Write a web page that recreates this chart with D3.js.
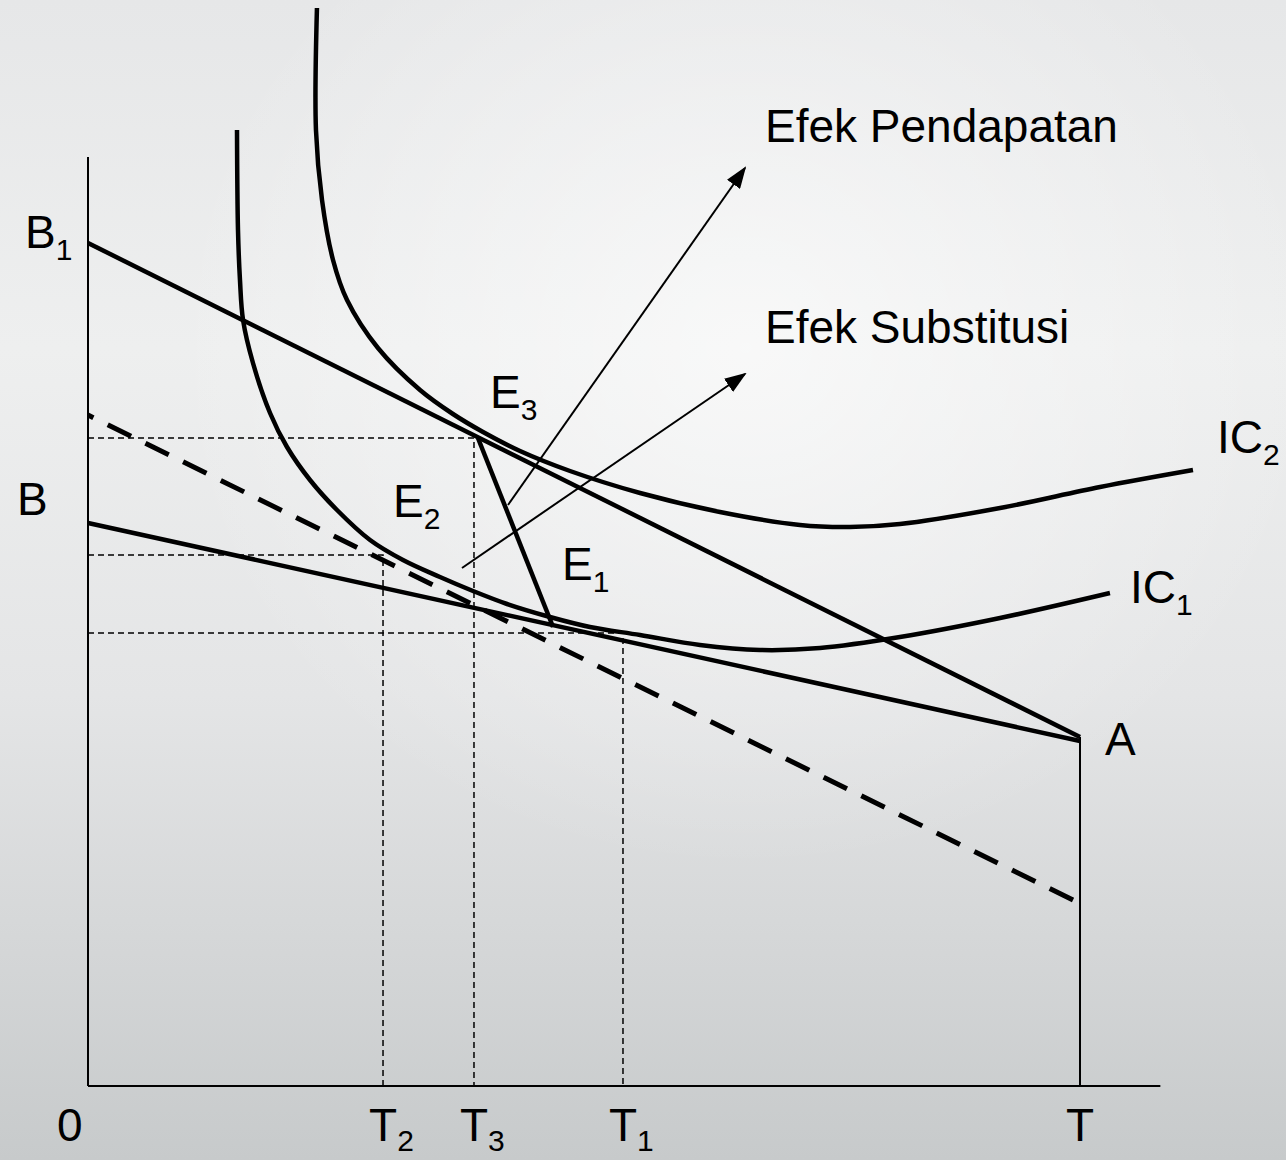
<!DOCTYPE html>
<html>
<head>
<meta charset="utf-8">
<script src="https://cdn.jsdelivr.net/npm/d3@7"></script>
<style>
  body { margin: 0; }
  svg { display: block; }
  text { font-family: "Liberation Sans", Arial, sans-serif; fill: #000; }
</style>
</head>
<body>
<div id="visual"></div>
<script>
// Indifference curves (x = leisure units, y = income units)
const ic2 = [
  [23.08, 107.8], [22.98, 95.6], [23.59, 88.6], [24.70, 82.6], [26.11, 78.6],
  [29.23, 73.8], [33.47, 69.6], [36.79, 67.2], [39.82, 65.4], [43.55, 63.5],
  [48.59, 61.5], [55.65, 59.3], [63.71, 57.4], [71.77, 56.1], [76.81, 55.9],
  [81.85, 56.2], [91.94, 57.8], [102.02, 59.9], [111.39, 61.6]
];
const ic1 = [
  [15.02, 95.6], [15.12, 85.6], [15.32, 80.6], [15.63, 76.6], [16.63, 72.3],
  [18.35, 67.3], [20.06, 63.9], [22.38, 60.6], [25.10, 57.6], [28.43, 54.6],
  [31.75, 52.6], [35.48, 50.9], [38.81, 49.5], [42.24, 48.2], [46.57, 46.9],
  [50.60, 45.9], [55.65, 45.1], [61.69, 44.1], [67.74, 43.6], [73.79, 43.8],
  [81.85, 44.9], [91.94, 46.8], [103.02, 49.3]
];

// Budget lines
const budgetB1 = [[0, 84.3], [100, 34.9]];
const budgetB = [[0, 56.3], [100, 34.5]];
const budgetDashed = [[0, 67.1], [100.3, 18.1]];
const endowment = [[100, 0], [100, 34.9]];

// Equilibrium points and the path E3 -> E1
const points = { E3: [38.91, 64.8], E2: [29.74, 53.1], E1: [53.93, 45.3] };
const e3toE1 = [[39.31, 64.8], [46.88, 45.9]];

// Effect arrows
const arrowIncome = [[42.34, 58.1], [66.23, 91.8]];
const arrowSubst = [[37.70, 51.8], [66.23, 71.2]];

// Tick labels
const xTickLabels = [
  { v: 0, main: "0", sub: "" },
  { v: 29.74, main: "T", sub: "2" },
  { v: 38.91, main: "T", sub: "3" },
  { v: 53.93, main: "T", sub: "1" },
  { v: 100, main: "T", sub: "" }
];
const yTickLabels = [
  { v: 84.3, main: "B", sub: "1" },
  { v: 56.3, main: "B", sub: "" }
];

const W = 1286, H = 1160;
const x = d3.scaleLinear().domain([0, 100]).range([88, 1080]);
const y = d3.scaleLinear().domain([0, 100]).range([1086, 86]);

const svg = d3.select("#visual").append("svg")
  .attr("width", W).attr("height", H);

const defs = svg.append("defs");
const bg = defs.append("linearGradient").attr("id", "bg")
  .attr("x1", 0).attr("y1", 0).attr("x2", 0).attr("y2", 1);
bg.append("stop").attr("offset", "0%").attr("stop-color", "#e6e7e8");
bg.append("stop").attr("offset", "30%").attr("stop-color", "#eeefef");
bg.append("stop").attr("offset", "60%").attr("stop-color", "#e4e5e6");
bg.append("stop").attr("offset", "100%").attr("stop-color", "#c7cacb");
const glow = defs.append("radialGradient").attr("id", "glow")
  .attr("cx", "58%").attr("cy", "30%").attr("r", "45%");
glow.append("stop").attr("offset", "0%").attr("stop-color", "#fff").attr("stop-opacity", 0.6);
glow.append("stop").attr("offset", "100%").attr("stop-color", "#fff").attr("stop-opacity", 0);

defs.append("marker").attr("id", "head")
  .attr("markerUnits", "userSpaceOnUse")
  .attr("viewBox", "0 0 22 16").attr("refX", 20).attr("refY", 8)
  .attr("markerWidth", 22).attr("markerHeight", 16)
  .attr("orient", "auto")
  .append("path").attr("d", "M0,0 L22,8 L0,16 Z").attr("fill", "#000");

svg.append("rect").attr("width", W).attr("height", H).attr("fill", "url(#bg)");
svg.append("rect").attr("width", W).attr("height", H).attr("fill", "url(#glow)");

const straight = d3.line().x(d => x(d[0])).y(d => y(d[1]));
const smooth = d3.line().x(d => x(d[0])).y(d => y(d[1])).curve(d3.curveCatmullRom.alpha(0.5));

// Axes
svg.append("path").datum([[0, 0], [108.1, 0]]).attr("d", straight)
  .attr("stroke", "#000").attr("stroke-width", 2).attr("fill", "none");
svg.append("path").datum([[0, 0], [0, 92.9]]).attr("d", straight)
  .attr("stroke", "#000").attr("stroke-width", 2).attr("fill", "none");
svg.append("path").datum(endowment).attr("d", straight)
  .attr("stroke", "#000").attr("stroke-width", 2).attr("fill", "none");

// Dashed guide lines
Object.values(points).forEach(p => {
  svg.append("path").datum([[0, p[1]], p, [p[0], 0]]).attr("d", straight)
    .attr("stroke", "#000").attr("stroke-width", 1.5)
    .attr("stroke-dasharray", "6,4").attr("fill", "none");
});

// Budget lines
svg.append("path").datum(budgetDashed).attr("d", straight)
  .attr("stroke", "#000").attr("stroke-width", 5)
  .attr("stroke-dasharray", "26,16").attr("stroke-dashoffset", 20).attr("fill", "none");
[budgetB1, budgetB].forEach(b => {
  svg.append("path").datum(b).attr("d", straight)
    .attr("stroke", "#000").attr("stroke-width", 4.5).attr("fill", "none");
});

// Indifference curves
[ic1, ic2].forEach(c => {
  svg.append("path").datum(c).attr("d", smooth)
    .attr("stroke", "#000").attr("stroke-width", 4.5).attr("fill", "none");
});

svg.append("path").datum(e3toE1).attr("d", straight)
  .attr("stroke", "#000").attr("stroke-width", 4.5).attr("fill", "none");

// Arrows
[arrowIncome, arrowSubst].forEach(a => {
  svg.append("path").datum(a).attr("d", straight)
    .attr("stroke", "#000").attr("stroke-width", 2).attr("fill", "none")
    .attr("marker-end", "url(#head)");
});

// Label helper: main text with subscript
function label(px, py, main, sub, subDy) {
  const t = svg.append("text").attr("x", px).attr("y", py)
    .style("font-size", "46px").text(main);
  if (sub) {
    t.append("tspan").attr("dy", subDy || 12).style("font-size", "30px").text(sub);
  }
  return t;
}

xTickLabels.forEach(d => {
  const px = d.main === "0" ? x(d.v) - 31 : x(d.v) - 14;
  label(px, 1141, d.main, d.sub, 10);
});
yTickLabels.forEach(d => {
  label(d.sub ? 25 : 17, y(d.v) + (d.sub ? 5 : -8), d.main, d.sub);
});

label(x(100) + 25, y(34.9) + 18, "A", "");
label(x(ic2[ic2.length - 1][0]) + 24, y(ic2[ic2.length - 1][1]) - 17, "IC", "2");
label(x(ic1[ic1.length - 1][0]) + 20, y(ic1[ic1.length - 1][1]) + 10, "IC", "1");
label(x(points.E3[0]) + 16, y(points.E3[1]) - 30, "E", "3");
label(x(points.E2[0]) + 10, y(points.E2[1]) - 38, "E", "2");
label(x(points.E1[0]) - 61, y(points.E1[1]) - 53, "E", "1");
label(x(arrowIncome[1][0]) + 20, y(arrowIncome[1][1]) - 26, "Efek Pendapatan", "");
label(x(arrowSubst[1][0]) + 20, y(arrowSubst[1][1]) - 31, "Efek Substitusi", "");
</script>
</body>
</html>
